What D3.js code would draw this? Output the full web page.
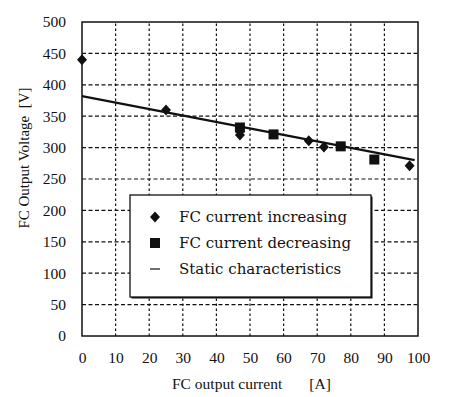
<!DOCTYPE html>
<html>
<head>
<meta charset="utf-8">
<script src="https://cdn.jsdelivr.net/npm/d3@7"></script>
<style>
  html, body { margin: 0; padding: 0; background: #fff; }
  svg { display: block; }
</style>
</head>
<body>
<div id="chart"></div>
<script>
// values
const xTicks = [0, 10, 20, 30, 40, 50, 60, 70, 80, 90, 100];
const yTicks = [0, 50, 100, 150, 200, 250, 300, 350, 400, 450, 500];

const incCurrent = [0, 25, 47, 47, 67.5, 72, 97.5];
const incVoltage = [440, 360, 320, 326, 311, 301, 271];

const decCurrent = [47, 57, 77, 87];
const decVoltage = [332, 321, 302, 281];

const staticCurrent = [0, 99];
const staticVoltage = [382, 280];

const legendLabels = ['FC current increasing', 'FC current decreasing', 'Static characteristics'];

const width = 450;
const height = 397;
const margin = { top: 22, right: 32, bottom: 61, left: 82 };

const svg = d3.select('#chart')
  .append('svg')
  .attr('width', width)
  .attr('height', height)
  .attr('xmlns', 'http://www.w3.org/2000/svg');

const xScale = d3.scaleLinear()
  .domain([0, 100])
  .range([margin.left, width - margin.right]);
const yScale = d3.scaleLinear()
  .domain([0, 500])
  .range([height - margin.bottom, margin.top]);

const serif = '"Liberation Serif", "Times New Roman", serif';

// grid
const grid = svg.append('g').attr('class', 'grid');
grid.selectAll('line.v')
  .data(xTicks.slice(1, -1))
  .join('line')
  .attr('class', 'v')
  .attr('x1', d => xScale(d))
  .attr('x2', d => xScale(d))
  .attr('y1', yScale(0))
  .attr('y2', yScale(500))
  .attr('stroke', '#111')
  .attr('stroke-width', 1.2)
  .attr('stroke-dasharray', '2.5 2.5');
grid.selectAll('line.h')
  .data(yTicks.slice(1, -1))
  .join('line')
  .attr('class', 'h')
  .attr('x1', xScale(0))
  .attr('x2', xScale(100))
  .attr('y1', d => yScale(d))
  .attr('y2', d => yScale(d))
  .attr('stroke', '#111')
  .attr('stroke-width', 1.2)
  .attr('stroke-dasharray', '4 2.5');

// frame
svg.append('rect')
  .attr('x', xScale(0))
  .attr('y', yScale(500))
  .attr('width', xScale(100) - xScale(0))
  .attr('height', yScale(0) - yScale(500))
  .attr('fill', 'none')
  .attr('stroke', '#111')
  .attr('stroke-width', 1.5);

// axes
const xAxis = d3.axisBottom(xScale).tickValues(xTicks).tickSize(0).tickPadding(16);
const yAxis = d3.axisLeft(yScale).tickValues(yTicks).tickSize(0).tickPadding(16);

const gx = svg.append('g')
  .attr('transform', `translate(0, ${yScale(0)})`)
  .call(xAxis);
const gy = svg.append('g')
  .attr('transform', `translate(${xScale(0)}, 0)`)
  .call(yAxis);
[gx, gy].forEach(g => {
  g.select('.domain').remove();
  g.selectAll('text')
    .attr('font-family', serif)
    .attr('font-size', 15.5)
    .attr('fill', '#111');
});

// axis titles
svg.append('text')
  .attr('x', 172)
  .attr('y', 389)
  .attr('font-family', serif)
  .attr('font-size', 15.5)
  .attr('fill', '#111')
  .style('white-space', 'pre')
  .text('FC output current       [A]');

svg.append('text')
  .attr('transform', `translate(29, 158) rotate(-90)`)
  .attr('text-anchor', 'middle')
  .attr('font-family', serif)
  .attr('font-size', 15)
  .attr('fill', '#111')
  .style('white-space', 'pre')
  .text('FC Output Voltage  [V]');

// static characteristic line
const line = d3.line()
  .x(d => xScale(d[0]))
  .y(d => yScale(d[1]));
svg.append('path')
  .datum(d3.zip(staticCurrent, staticVoltage))
  .attr('d', line)
  .attr('fill', 'none')
  .attr('stroke', '#111')
  .attr('stroke-width', 2.2);

const diamond = 'M0,-5.5L5,0L0,5.5L-5,0Z';

svg.append('g')
  .selectAll('rect')
  .data(d3.zip(decCurrent, decVoltage))
  .join('rect')
  .attr('x', d => xScale(d[0]) - 5)
  .attr('y', d => yScale(d[1]) - 5)
  .attr('width', 10)
  .attr('height', 10)
  .attr('fill', '#111');

svg.append('g')
  .selectAll('path')
  .data(d3.zip(incCurrent, incVoltage))
  .join('path')
  .attr('transform', d => `translate(${xScale(d[0])}, ${yScale(d[1])})`)
  .attr('d', diamond)
  .attr('fill', '#111');

// legend
const legend = svg.append('g').attr('class', 'legend');
legend.append('rect')
  .attr('x', 131.5)
  .attr('y', 196.5)
  .attr('width', 241)
  .attr('height', 102)
  .attr('fill', '#111');
legend.append('rect')
  .attr('x', 130)
  .attr('y', 195)
  .attr('width', 241)
  .attr('height', 102)
  .attr('fill', '#fff')
  .attr('stroke', '#111')
  .attr('stroke-width', 1.3);

const rowY = [217, 243, 269];
legend.append('path')
  .attr('transform', `translate(155, ${rowY[0]})`)
  .attr('d', diamond)
  .attr('fill', '#111');
legend.append('rect')
  .attr('x', 150)
  .attr('y', rowY[1] - 5)
  .attr('width', 10)
  .attr('height', 10)
  .attr('fill', '#111');
legend.append('line')
  .attr('x1', 150)
  .attr('x2', 160)
  .attr('y1', rowY[2])
  .attr('y2', rowY[2])
  .attr('stroke', '#111')
  .attr('stroke-width', 1.2);

legend.selectAll('text')
  .data(legendLabels)
  .join('text')
  .attr('x', 179)
  .attr('y', (d, i) => rowY[i])
  .attr('dy', '0.35em')
  .attr('font-family', '"DejaVu Serif", serif')
  .attr('font-size', 15)
  .attr('fill', '#111')
  .text(d => d);
</script>
</body>
</html>
